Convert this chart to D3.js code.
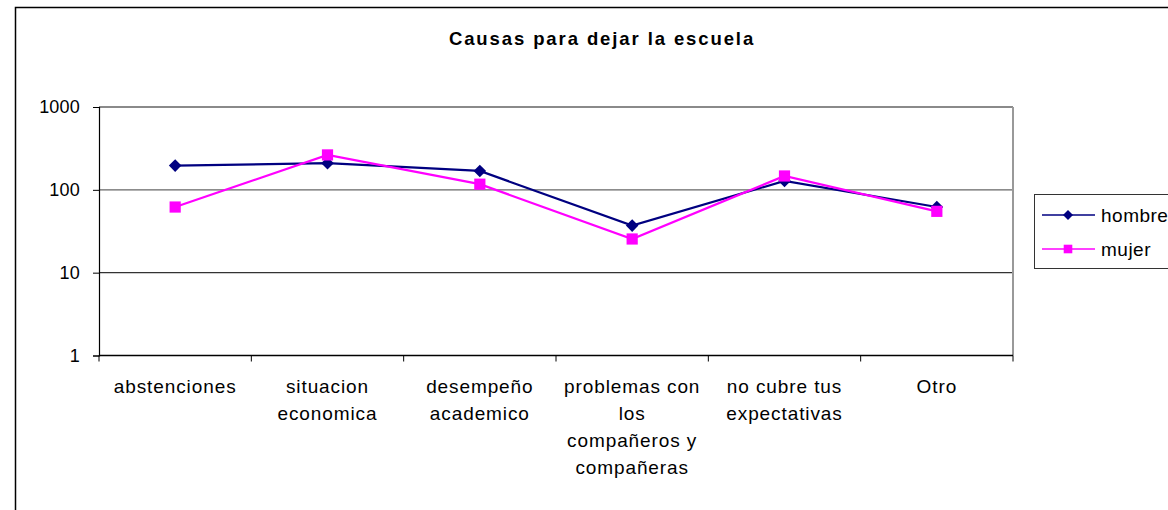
<!DOCTYPE html>
<html>
<head>
<meta charset="utf-8">
<script src="https://cdn.jsdelivr.net/npm/d3@7"></script>
<style>
  html, body { margin: 0; padding: 0; background: #fff; }
  svg { display: block; }
  text { font-family: "Liberation Sans", Arial, sans-serif; fill: #000; }
</style>
</head>
<body>
<svg id="chart" width="1168" height="510"></svg>
<script>
const categories = [
  "abstenciones",
  "situacion\neconomica",
  "desempeño\nacademico",
  "problemas con\nlos\ncompañeros y\ncompañeras",
  "no cubre tus\nexpectativas",
  "Otro"
];
const hombre = [196, 210, 169, 37, 128, 62];
const mujer  = [62, 264, 117, 25.5, 147, 55];
const yTicks = [1, 10, 100, 1000];
const seriesNames = ["hombre", "mujer"];
const titleText = "Causas para dejar la escuela";

(function () {
const svg = d3.select("#chart");
const pLeft = 99, pRight = 1013, pTop = 107, pBottom = 355.5;

// outer chart border
svg.append("rect").attr("x", 15.5).attr("y", 7.5).attr("width", 1200).attr("height", 600)
  .attr("fill", "#fff").attr("stroke", "#000").attr("stroke-width", 1.5);

// title
svg.append("text").attr("x", 602).attr("y", 44.5).attr("text-anchor", "middle")
  .attr("font-size", 18.5).attr("font-weight", "bold").attr("letter-spacing", 1.9)
  .text(titleText);

const x = d3.scaleBand().domain(categories).range([pLeft, pRight]);
const y = d3.scaleLog().domain([1, 1000]).range([pBottom, pTop]);

// gridlines
const gridColors = {1000: "#8a8a8a", 100: "#666", 10: "#333"};
svg.append("g").selectAll("line").data(yTicks.filter(t => t > 1)).join("line")
  .attr("x1", pLeft).attr("x2", pRight)
  .attr("y1", d => y(d)).attr("y2", d => y(d))
  .attr("stroke", d => gridColors[d])
  .attr("stroke-width", d => d === 1000 ? 2 : 1.2);

// right border of plot area
svg.append("line").attr("x1", pRight).attr("x2", pRight).attr("y1", pTop).attr("y2", pBottom)
  .attr("stroke", "#999").attr("stroke-width", 2);

// y axis
const yAxis = d3.axisLeft(y).tickValues(yTicks).tickFormat(d3.format("d")).tickSize(6).tickPadding(13);
const gy = svg.append("g").attr("transform", `translate(${pLeft},0)`).call(yAxis);
gy.select(".domain").attr("stroke", "#000").attr("stroke-width", 1.2);
gy.selectAll(".tick line").attr("stroke", "#000");
gy.selectAll(".tick text").attr("font-size", 18).attr("letter-spacing", 0.2)
  .attr("font-family", "Liberation Sans, Arial, sans-serif").attr("fill", "#000");

// x axis
const gx = svg.append("g").attr("transform", `translate(0,${pBottom})`);
gx.append("line").attr("x1", pLeft).attr("x2", pRight).attr("y1", 0).attr("y2", 0)
  .attr("stroke", "#000").attr("stroke-width", 1.5);
const bounds = categories.map(c => x(c)).concat([pRight]);
gx.selectAll("line.tk").data(bounds).join("line").attr("class", "tk")
  .attr("x1", d => d).attr("x2", d => d).attr("y1", 0).attr("y2", 6)
  .attr("stroke", "#000");
gx.selectAll("text.cat").data(categories).join("text").attr("class", "cat")
  .attr("text-anchor", "middle").attr("font-size", 19).attr("letter-spacing", 0.9)
  .each(function(d) {
    const t = d3.select(this);
    d.split("\n").forEach((ln, i) => {
      t.append("tspan").attr("x", x(d) + x.bandwidth() / 2)
        .attr("y", 37.5 + i * 27).text(ln);
    });
  });

// markers
const diamond = s => `M0,${-s}L${s},0L0,${s}L${-s},0Z`;
const square = s => `M${-s},${-s}H${s}V${s}H${-s}Z`;

const cx = d => x(d) + x.bandwidth() / 2;
const series = [
  {name: seriesNames[0], values: hombre, color: "#000080", marker: diamond(6.3)},
  {name: seriesNames[1], values: mujer, color: "#FF00FF", marker: square(5.6)}
];
const lineGen = d3.line().x((d, i) => cx(categories[i])).y(d => y(d));

series.forEach(s => {
  svg.append("path").attr("d", lineGen(s.values)).attr("fill", "none")
    .attr("stroke", s.color).attr("stroke-width", 2.2);
});
series.forEach(s => {
  svg.append("g").selectAll("path").data(s.values).join("path")
    .attr("transform", (d, i) => `translate(${cx(categories[i])},${y(d)})`)
    .attr("d", s.marker).attr("fill", s.color);
});

// legend
const lg = svg.append("g");
lg.append("rect").attr("x", 1034.5).attr("y", 194.5).attr("width", 200).attr("height", 74)
  .attr("fill", "#fff").attr("stroke", "#333").attr("stroke-width", 1);
const legendMarkers = [diamond(5), square(4.3)];
series.forEach((s, i) => {
  const ly = 215 + i * 34;
  lg.append("line").attr("x1", 1042).attr("x2", 1095).attr("y1", ly).attr("y2", ly)
    .attr("stroke", s.color).attr("stroke-width", 1.6);
  lg.append("path").attr("transform", `translate(1068,${ly})`).attr("d", legendMarkers[i]).attr("fill", s.color);
  lg.append("text").attr("x", 1101).attr("y", ly + 7).attr("font-size", 19)
    .attr("letter-spacing", 0.5).text(s.name);
});
})();
</script>
</body>
</html>
